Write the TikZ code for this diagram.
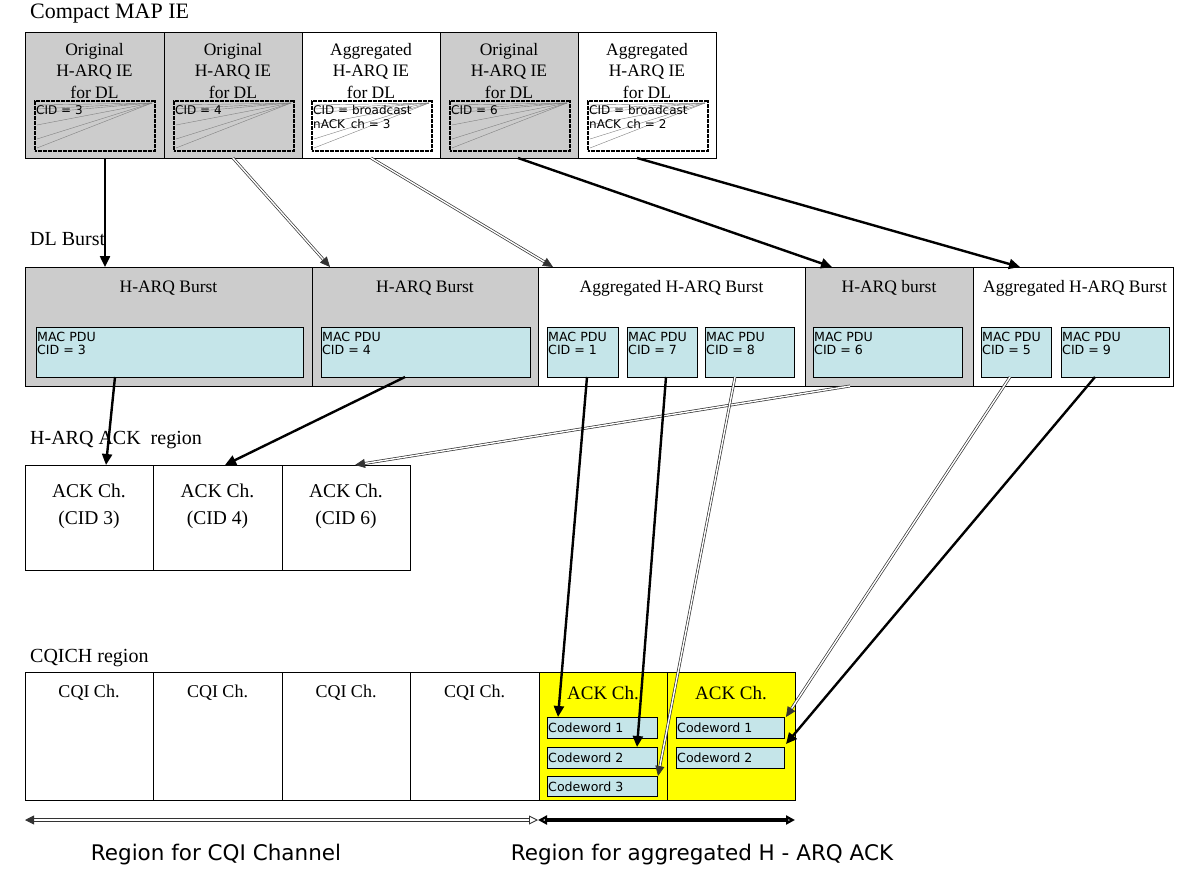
\documentclass[tikz,border=0pt]{standalone}
\usepackage{fontspec}
\setmainfont{Liberation Serif}
\newfontfamily\sansf{DejaVu Sans}
\usetikzlibrary{arrows.meta,calc}
\definecolor{boxgray}{HTML}{CCCCCC}
\definecolor{pducyan}{HTML}{C5E5E9}
\definecolor{ackyellow}{HTML}{FFFF00}
\begin{document}
\begin{tikzpicture}[x=1pt,y=-1pt,
 cell/.style={draw, line width=0.7pt, anchor=north west, inner sep=0pt, outer sep=0pt},
 gcell/.style={cell, fill=boxgray},
 wcell/.style={cell, fill=white},
 pdu/.style={cell, fill=pducyan, line width=0.8pt},
 ybox/.style={cell, fill=ackyellow},
 iebox/.style={draw, anchor=north west, inner sep=0pt, outer sep=0pt, line width=2.6pt, dash pattern=on 2pt off 0.5pt, minimum width=120pt, minimum height=50pt},
 ser/.style={font=\fontsize{17.5}{21.5}\selectfont, align=center, inner sep=0pt},
 lbl/.style={font=\fontsize{20}{22}\selectfont, anchor=west, inner sep=0pt},
 small/.style={font=\sansf\fontsize{12.6}{13}\selectfont, anchor=north west, inner sep=0pt, align=left},
 tiny/.style={font=\sansf\fontsize{12}{14}\selectfont, anchor=north west, inner sep=0pt, align=left},
 fan/.style={draw=gray, line width=0.4pt},
 thk/.style={line width=2.4pt, -{Triangle[length=11pt,width=10pt]}},
 dbl/.style={draw=black!80, line width=0.7pt, double=white, double distance=1.4pt, -{Triangle[length=10pt,width=9pt]}},
 big/.style={font=\sansf\fontsize{21.5}{23}\selectfont, inner sep=0pt}
]
\useasboundingbox (0,0) rectangle (1182,869);

% ---------- labels ----------
\node[lbl, font=\fontsize{22}{23}\selectfont] (lmap) at (30,14) {Compact MAP IE};
\node[lbl] (ldl) at (30,239) {DL Burst};
\node[lbl] (lack) at (30,440) {H-ARQ ACK~ region};
\node[lbl] (lcq) at (30,658) {CQICH region};

% ---------- Compact MAP IE ----------
\node[gcell, minimum width=139pt, minimum height=126pt] (m1) at (25,32) {};
\node[gcell, minimum width=138pt, minimum height=126pt] (m2) at (164,32) {};
\node[wcell, minimum width=138pt, minimum height=126pt] (m3) at (302,32) {};
\node[gcell, minimum width=138pt, minimum height=126pt] (m4) at (440,32) {};
\node[wcell, minimum width=138pt, minimum height=126pt] (m5) at (578,32) {};

\node[ser] (m1t) at (94.5,71) {Original\\H-ARQ IE\\for DL};
\node[ser] (m2t) at (233,71) {Original\\H-ARQ IE\\for DL};
\node[ser] (m3t) at (371,71) {Aggregated\\H-ARQ IE\\for DL};
\node[ser] (m4t) at (509,71) {Original\\H-ARQ IE\\for DL};
\node[ser] (m5t) at (647,71) {Aggregated\\H-ARQ IE\\for DL};

\foreach \n/\xx in {i1/35,i2/174,i3/312,i4/450,i5/588}{
  \node[iebox] (\n) at (\xx,101) {};
  \foreach \k in {4,8,12,24,38,47}{
    \draw[fan] ($(\n.north east)+(-3,2)$) -- ($(\n.north west)+(2,\k)$);
  }
}
\node[tiny] (i1t) at ($(i1.north west)+(1,4)$) {CID = 3};
\node[tiny] (i2t) at ($(i2.north west)+(1,4)$) {CID = 4};
\node[tiny] (i3t) at ($(i3.north west)+(1,4)$) {CID = broadcast\\nACK\, ch = 3};
\node[tiny] (i4t) at ($(i4.north west)+(1,4)$) {CID = 6};
\node[tiny] (i5t) at ($(i5.north west)+(1,4)$) {CID = broadcast\\nACK\, ch = 2};

% ---------- DL Burst ----------
\node[gcell, minimum width=287pt, minimum height=119pt] (b1) at (25,267) {};
\node[gcell, minimum width=226pt, minimum height=119pt] (b2) at (312,267) {};
\node[wcell, minimum width=267pt, minimum height=119pt] (b3) at (538,267) {};
\node[gcell, minimum width=168pt, minimum height=119pt] (b4) at (805,267) {};
\node[wcell, minimum width=200pt, minimum height=119pt] (b5) at (973,267) {};

\node[ser] (b1t) at (168.5,288) {H-ARQ Burst};
\node[ser] (b2t) at (425,288) {H-ARQ Burst};
\node[ser] (b3t) at (671.5,288) {Aggregated H-ARQ Burst};
\node[ser] (b4t) at (889,288) {H-ARQ burst};
\node[ser] (b5t) at (1075,288) {Aggregated H-ARQ Burst};

\node[pdu, minimum width=267pt, minimum height=50pt] (p3) at (36,327) {};
\node[pdu, minimum width=209pt, minimum height=50pt] (p4) at (321,327) {};
\node[pdu, minimum width=71pt, minimum height=50pt] (p1) at (547,327) {};
\node[pdu, minimum width=70pt, minimum height=50pt] (p7) at (627,327) {};
\node[pdu, minimum width=89pt, minimum height=50pt] (p8) at (705,327) {};
\node[pdu, minimum width=149pt, minimum height=50pt] (p6) at (813,327) {};
\node[pdu, minimum width=70pt, minimum height=50pt] (p5) at (981,327) {};
\node[pdu, minimum width=108pt, minimum height=50pt] (p9) at (1061,327) {};
\foreach \n/\c in {p3/3,p4/4,p1/1,p7/7,p8/8,p6/6,p5/5,p9/9}{
  \node[small] (\n t) at ($(\n.north west)+(1,5)$) {MAC PDU\\CID = \c};
}

% ---------- H-ARQ ACK region ----------
\node[wcell, minimum width=128pt, minimum height=105pt] (a3) at (25,465) {};
\node[wcell, minimum width=129pt, minimum height=105pt] (a4) at (153,465) {};
\node[wcell, minimum width=128pt, minimum height=105pt] (a6) at (282,465) {};
\node[ser, font=\fontsize{19.5}{27}\selectfont] (a3t) at (89,506) {ACK Ch.\\(CID 3)};
\node[ser, font=\fontsize{19.5}{27}\selectfont] (a4t) at (217.5,506) {ACK Ch.\\(CID 4)};
\node[ser, font=\fontsize{19.5}{27}\selectfont] (a6t) at (346,506) {ACK Ch.\\(CID 6)};

% ---------- CQICH region ----------
\node[wcell, minimum width=128pt, minimum height=128pt] (q1) at (25,672) {};
\node[wcell, minimum width=129pt, minimum height=128pt] (q2) at (153,672) {};
\node[wcell, minimum width=128pt, minimum height=128pt] (q3) at (282,672) {};
\node[wcell, minimum width=129pt, minimum height=128pt] (q4) at (410,672) {};
\node[ybox, minimum width=128pt, minimum height=128pt] (y1) at (539,672) {};
\node[ybox, minimum width=128pt, minimum height=128pt] (y2) at (667,672) {};
\node[ser, font=\fontsize{18}{20}\selectfont] (q1t) at (89,693) {CQI Ch.};
\node[ser, font=\fontsize{18}{20}\selectfont] (q2t) at (217.5,693) {CQI Ch.};
\node[ser, font=\fontsize{18}{20}\selectfont] (q3t) at (346,693) {CQI Ch.};
\node[ser, font=\fontsize{18}{20}\selectfont] (q4t) at (474.5,693) {CQI Ch.};
\node[ser, font=\fontsize{19}{20}\selectfont] (y1t) at (603,693) {ACK Ch.};
\node[ser, font=\fontsize{19}{20}\selectfont] (y2t) at (731,693) {ACK Ch.};

\node[pdu, minimum width=110pt, minimum height=21pt] (c11) at (547,717) {};
\node[pdu, minimum width=110pt, minimum height=21pt] (c12) at (547,747) {};
\node[pdu, minimum width=110pt, minimum height=20pt] (c13) at (547,776) {};
\node[pdu, minimum width=108pt, minimum height=21pt] (c21) at (676,717) {};
\node[pdu, minimum width=108pt, minimum height=21pt] (c22) at (676,747) {};
\foreach \n/\c in {c11/1,c12/2,c13/3,c21/1,c22/2}{
  \node[small, anchor=west] (\n t) at ($(\n.west)+(1,0.5)$) {Codeword \c};
}

% ---------- connectors: MAP IE -> DL burst ----------
\draw[thk] ([xshift=10.5pt]m1.south) -- ([xshift=80pt]b1.north west);
\draw[dbl] (m2.south) -- ([xshift=18pt]b2.north west);
\draw[dbl] (m3.south) -- ([xshift=15pt]b3.north west);
\draw[thk] ([xshift=9pt]m4.south) -- ([xshift=27pt]b4.north west);
\draw[thk] ([xshift=-10pt]m5.south) -- ([xshift=47pt]b5.north west);

% ---------- connectors: DL burst -> ACK region ----------
\draw[thk] ([xshift=-54.5pt]p3.south) -- ([xshift=17pt]a3.north);
\draw[thk] ([xshift=-20.5pt]p4.south) -- ([xshift=7.5pt]a4.north);
\draw[dbl] ([xshift=-39pt]b4.south) -- ([xshift=9pt]a6.north);

% ---------- connectors: aggregated PDUs -> codewords ----------
\draw[thk] ([xshift=4.5pt]p1.south) -- ([xshift=11pt]c11.north west);
\draw[thk] ([xshift=4pt]p7.south) -- ([xshift=90pt]c12.north west);
\draw[dbl] ([xshift=-14.5pt]p8.south) -- ([xshift=1pt]c13.north east);
\draw[dbl] ([xshift=-6pt]p5.south) -- ($(c21.north east)+(2,0)$);
\draw[thk] ([xshift=-20pt]p9.south) -- ($(c22.north east)+(2,-3)$);

% ---------- bottom extent arrows ----------
\coordinate (ra) at (25,820);
\coordinate (rb) at (538,820);
\coordinate (rc) at (795,820);
\draw[draw=black!80, line width=0.9pt, double=white, double distance=1.8pt,
      {Triangle[length=9pt,width=9pt]}-{Triangle[length=9pt,width=9pt,open]}] (ra) -- (rb);
\draw[line width=3.2pt, {Triangle[length=9pt,width=9pt,open]}-{Triangle[length=9pt,width=9pt,open]}] (rb) -- (rc);
\node[big] (rt1) at (216,855) {Region for CQI Channel};
\node[big] (rt2) at (702,855) {Region for aggregated H - ARQ ACK};
\end{tikzpicture}
\end{document}
